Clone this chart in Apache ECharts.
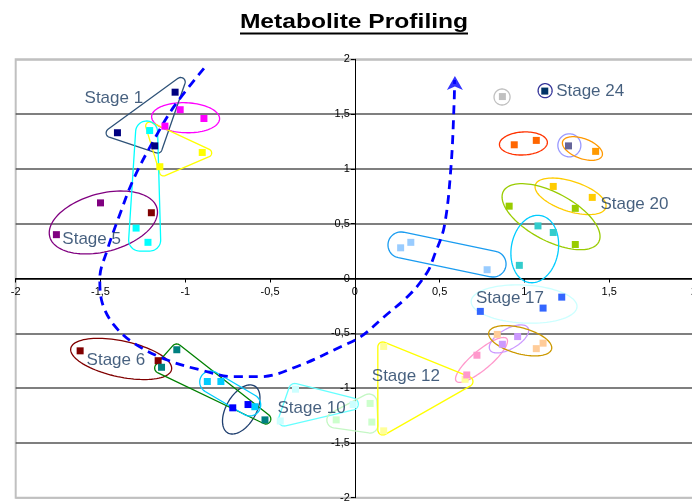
<!DOCTYPE html>
<html>
<head>
<meta charset="utf-8">
<script src="https://cdn.jsdelivr.net/npm/echarts@6/dist/echarts.min.js"></script>
<style>
  html, body { margin: 0; padding: 0; background: #fff; }
  #chart { width: 692px; height: 503px; }
</style>
</head>
<body>
<div id="chart"></div>
<script>
// ---- sample scores, one array per group: [component 1, component 2] ----
const navy        = [[-1.06, 1.70], [-1.40, 1.33], [-1.18, 1.21]];
const magenta     = [[-1.03, 1.54], [-0.89, 1.46], [-1.12, 1.39]];
const yellow      = [[-1.15, 1.02], [-0.90, 1.15]];
const cyan        = [[-1.21, 1.35], [-1.29, 0.46], [-1.22, 0.33]];
const purple      = [[-1.50, 0.69], [-1.76, 0.40]];
const maroon      = [[-1.20, 0.60], [-1.62, -0.66], [-1.16, -0.75]];
const teal        = [[-1.14, -0.81], [-1.05, -0.65], [-0.53, -1.29]];
const skyCyan     = [[-0.87, -0.94], [-0.79, -0.94], [-0.59, -1.17]];
const blue        = [[-0.72, -1.18], [-0.63, -1.15]];
const paleCyan    = [[-0.35, -1.01], [-0.44, -1.30], [-0.01, -1.15]];
const paleGreen   = [[-0.11, -1.29], [0.09, -1.14], [0.10, -1.31]];
const paleYellow  = [[0.17, -0.62], [0.17, -1.39], [0.65, -0.92]];
const pink        = [[0.66, -0.88], [0.72, -0.70]];
const lavender    = [[0.87, -0.60], [0.96, -0.53]];
const peach       = [[0.84, -0.51], [1.07, -0.64], [1.11, -0.59]];
const royalBlue   = [[0.74, -0.30], [1.11, -0.27], [1.22, -0.17]];
const lightBlue   = [[0.27, 0.28], [0.33, 0.33], [0.78, 0.08]];
const turquoise   = [[1.08, 0.48], [1.17, 0.42], [0.97, 0.12]];
const yellowGreen = [[0.91, 0.66], [1.30, 0.64], [1.30, 0.31]];
const gold        = [[1.17, 0.84], [1.40, 0.74]];
const orange      = [[1.42, 1.16]];
const orangeRed   = [[0.94, 1.22], [1.07, 1.26]];
const slate       = [[1.26, 1.21]];
const silver      = [[0.87, 1.66]];
const darkNavy    = [[1.12, 1.71]];

// ---- stage captions ----
const stageNames = ['Stage 1', 'Stage 5', 'Stage 6', 'Stage 10', 'Stage 12', 'Stage 17', 'Stage 20', 'Stage 24'];
const stageAnchors = [[-1.594, 1.647], [-1.725, 0.360], [-1.582, -0.744], [-0.456, -1.184],
                      [0.100, -0.896], [0.714, -0.178], [1.448, 0.677], [1.187, 1.704]];

// ---- developmental trajectory (dashed arrow) ----
const trajectory = [
  [-0.890, 1.918], [-1.067, 1.568], [-1.185, 1.264], [-1.303, 0.914], [-1.391, 0.564],
  [-1.460, 0.260], [-1.504, 0.002], [-1.489, -0.226], [-1.421, -0.424], [-1.303, -0.591],
  [-1.106, -0.744], [-0.909, -0.835], [-0.714, -0.896], [-0.555, -0.896], [-0.319, -0.789],
  [-0.083, -0.622], [0.035, -0.531], [0.173, -0.349], [0.331, -0.135], [0.429, 0.062],
  [0.466, 0.199], [0.527, 0.473], [0.567, 1.020], [0.586, 1.629], [0.588, 1.811]
];
const arrowTip = [[0.590, 1.848]];

// ---- x / y tick range ----
const axisMin = -2, axisMax = 2, axisStep = 0.5;

// ---- group outlines ----
// ellipses: centre in data units, semi-axes a/b in px, rotation in degrees
const ellipseRings = [
  { x: -0.998, y: 1.467, a: 34, b: 15, rot: 2, color: '#ff00ff' },
  { x: -1.483, y: 0.511, a: 55.5, b: 29, rot: -15, color: '#800080' },
  { x: 0.868, y: 1.656, a: 8, b: 8, rot: 0, color: '#c0c0c0' },
  { x: 1.122, y: 1.714, a: 7, b: 7, rot: 0, color: '#333399' },
  { x: 0.994, y: 1.232, a: 24, b: 11.5, rot: -3, color: '#ff3300' },
  { x: 1.265, y: 1.215, a: 11.5, b: 11.5, rot: 0, color: '#9999ff' },
  { x: 1.342, y: 1.186, a: 21, b: 10, rot: 20, color: '#ff9900' },
  { x: 1.272, y: 0.750, a: 37, b: 15, rot: 18, color: '#ffcc00' },
  { x: 1.157, y: 0.564, a: 54, b: 24, rot: 28, color: '#99cc00' },
  { x: 1.061, y: 0.269, a: 34, b: 23.5, rot: -80, color: '#00ccff' },
  { x: -1.378, y: -0.734, a: 51.5, b: 18, rot: 12, color: '#800000' },
  { x: -0.670, y: -1.195, a: 27, b: 15, rot: -60, color: '#1f3f6f' },
  { x: 0.747, y: -0.743, a: 33, b: 9.5, rot: -40, color: '#ff99cc' },
  { x: 0.909, y: -0.551, a: 22, b: 10, rot: -30, color: '#cc99ff' },
  { x: 0.975, y: -0.568, a: 32.5, b: 13, rot: 15, color: '#cc9900' },
  { x: 0.998, y: -0.233, a: 53, b: 19, rot: 3, color: '#ccffff' }
];
// rounded hulls: corner points in data units, corner radius in px
const hullRings = [
  { pts: [[-1.027, 1.793], [-1.440, 1.328], [-1.163, 1.186]], r: 4.5, color: '#2e5278' },
  { pts: [[-1.210, 1.391], [-0.868, 1.145], [-1.128, 0.972]], r: 4, color: '#ffff00' },
  { pts: [[-1.228, 1.337], [-1.269, 0.351], [-1.210, 0.351]], r: 11, color: '#00ffff' },
  { pts: [[0.272, 0.306], [0.815, 0.132]], r: 13, color: '#1a9cf0' },
  { pts: [[-1.051, -0.643], [-1.151, -0.817], [-0.525, -1.282]], r: 5, color: '#008000' },
  { pts: [[-0.850, -0.944], [-0.620, -1.154]], r: 11, color: '#00ccff' },
  { pts: [[-0.416, -1.291], [-0.354, -1.013], [-0.015, -1.145]], r: 6, color: '#66ffff' },
  { pts: [[-0.118, -1.291], [0.083, -1.127], [0.089, -1.337]], r: 8, color: '#c4f7c4' },
  { pts: [[0.165, -0.625], [0.667, -0.940], [0.165, -1.382]], r: 5, color: '#ffff00' }
];

const groups = [
  ['navy', navy, '#000080'], ['magenta', magenta, '#ff00ff'], ['yellow', yellow, '#ffff00'],
  ['cyan', cyan, '#00ffff'], ['purple', purple, '#800080'], ['maroon', maroon, '#800000'],
  ['teal', teal, '#008080'], ['skyCyan', skyCyan, '#00ccff'], ['blue', blue, '#0000ff'],
  ['paleCyan', paleCyan, '#ccffff'], ['paleGreen', paleGreen, '#ccffcc'],
  ['paleYellow', paleYellow, '#ffff99'], ['pink', pink, '#ff99cc'], ['lavender', lavender, '#cc99ff'],
  ['peach', peach, '#ffcc99'], ['royalBlue', royalBlue, '#3366ff'], ['lightBlue', lightBlue, '#99ccff'],
  ['turquoise', turquoise, '#33cccc'], ['yellowGreen', yellowGreen, '#99cc00'], ['gold', gold, '#ffcc00'],
  ['orange', orange, '#ff9900'], ['orangeRed', orangeRed, '#ff6600'], ['slate', slate, '#666699'],
  ['silver', silver, '#c0c0c0'], ['darkNavy', darkNavy, '#003366']
];

const FONT = '"Liberation Sans", Arial, Helvetica, sans-serif';
const LABEL_COLOR = '#17375e';
const comma = v => String(v).replace('.', ',');

// plot box
const GRID = { left: 15.7, top: 59.3, right: -2, bottom: 5.3 };
const CHART_W = 692, CHART_H = 503;
const plotW = CHART_W - GRID.left - GRID.right;
const plotH = CHART_H - GRID.top - GRID.bottom;
// both axes cross at the origin, which sits in the middle of the box
const xAxisShift = -plotH * (0 - axisMin) / (axisMax - axisMin);
const yAxisShift = -plotW * (0 - axisMin) / (axisMax - axisMin);

function ellipseItem(params, api) {
  const e = ellipseRings[params.dataIndex];
  const c = api.coord([e.x, e.y]);
  const th = e.rot * Math.PI / 180;
  const pts = [];
  for (let k = 0; k < 96; k++) {
    const t = k / 96 * 2 * Math.PI;
    const u = e.a * Math.cos(t), v = e.b * Math.sin(t);
    pts.push([c[0] + u * Math.cos(th) - v * Math.sin(th), c[1] + u * Math.sin(th) + v * Math.cos(th)]);
  }
  return { type: 'polygon', shape: { points: pts }, style: { fill: 'none', stroke: e.color, lineWidth: 1.3 } };
}

function cross(o, a, b) { return (a[0] - o[0]) * (b[1] - o[1]) - (a[1] - o[1]) * (b[0] - o[0]); }
function convexHull(points) {
  const p = points.slice().sort((a, b) => a[0] - b[0] || a[1] - b[1]);
  if (p.length < 3) return p;
  const lower = [], upper = [];
  for (const q of p) { while (lower.length >= 2 && cross(lower[lower.length - 2], lower[lower.length - 1], q) <= 0) lower.pop(); lower.push(q); }
  for (let i = p.length - 1; i >= 0; i--) { const q = p[i]; while (upper.length >= 2 && cross(upper[upper.length - 2], upper[upper.length - 1], q) <= 0) upper.pop(); upper.push(q); }
  upper.pop(); lower.pop();
  return lower.concat(upper);
}

function hullItem(params, api) {
  const h = hullRings[params.dataIndex];
  const p = convexHull(h.pts.map(q => api.coord(q)));
  const n = p.length, out = [];
  for (let i = 0; i < n; i++) {
    const prev = p[(i - 1 + n) % n], cur = p[i], next = p[(i + 1) % n];
    const a0 = Math.atan2(-(cur[0] - prev[0]), cur[1] - prev[1]);
    let a1 = Math.atan2(-(next[0] - cur[0]), next[1] - cur[1]);
    while (a1 < a0) a1 += 2 * Math.PI;
    const steps = Math.max(2, Math.ceil((a1 - a0) / (Math.PI / 24)));
    for (let s = 0; s <= steps; s++) {
      const a = a0 + (a1 - a0) * s / steps;
      out.push([cur[0] + h.r * Math.cos(a), cur[1] + h.r * Math.sin(a)]);
    }
  }
  return { type: 'polygon', shape: { points: out }, style: { fill: 'none', stroke: h.color, lineWidth: 1.3 } };
}

const chart = echarts.init(document.getElementById('chart'), null, { renderer: 'canvas' });

const series = [
  {
    type: 'custom', name: 'ellipses', renderItem: ellipseItem, silent: true, z: 2,
    data: ellipseRings.map(e => [e.x, e.y]), encode: { x: 0, y: 1 }
  },
  {
    type: 'custom', name: 'hulls', renderItem: hullItem, silent: true, z: 2,
    data: hullRings.map(h => h.pts[0]), encode: { x: 0, y: 1 }
  },
  {
    type: 'line', name: 'trajectory', data: trajectory, smooth: 0.35, symbol: 'none', silent: true, z: 3,
    lineStyle: { color: '#0000ff', width: 2.8, type: [9, 6] }
  },
  {
    type: 'scatter', name: 'arrow', data: arrowTip, symbol: 'arrow', symbolSize: [12, 14], silent: true, z: 3,
    itemStyle: { color: '#0000ff' }
  }
];

groups.forEach(([name, data, color]) => {
  series.push({
    type: 'scatter', name, data, symbol: 'rect', symbolSize: 7, z: 4, silent: true,
    itemStyle: { color, opacity: 1 }
  });
});

series.push({
  type: 'scatter', name: 'stages', symbolSize: 0, silent: true, z: 5,
  data: stageAnchors.map((p, i) => ({ value: p, name: stageNames[i] })),
  label: {
    show: true, position: 'right', distance: 0, formatter: '{b}',
    fontFamily: FONT, fontSize: 17, color: LABEL_COLOR
  }
});

chart.setOption({
  animation: false,
  backgroundColor: '#fff',
  grid: {
    left: GRID.left, top: GRID.top, right: GRID.right, bottom: GRID.bottom,
    containLabel: false, outerBoundsMode: 'none',
    show: true, borderColor: '#c0c0c0', borderWidth: 2
  },
  xAxis: {
    type: 'value', min: axisMin, max: axisMax, interval: axisStep,
    position: 'bottom', offset: xAxisShift,
    axisLine: { onZero: false, lineStyle: { color: '#000', width: 1 } },
    axisTick: { show: true, length: 4, lineStyle: { color: '#000' } },
    axisLabel: { formatter: comma, fontFamily: FONT, fontSize: 11, color: '#000', margin: 8 },
    splitLine: { show: false }
  },
  yAxis: {
    type: 'value', min: axisMin, max: axisMax, interval: axisStep,
    position: 'left', offset: yAxisShift,
    axisLine: { onZero: false, lineStyle: { color: '#000', width: 1 } },
    axisTick: { show: true, length: 4, lineStyle: { color: '#000' } },
    axisLabel: { formatter: comma, fontFamily: FONT, fontSize: 11, color: '#000', margin: 5, padding: [5, 0, 0, 0] },
    splitLine: {
      show: true,
      lineStyle: { color: ['#c0c0c0', '#555', '#555', '#555', '#000', '#555', '#555', '#555', '#c0c0c0'], width: 1.5 }
    }
  },
  graphic: [
    {
      type: 'text', x: 354, y: 22, scaleX: 1.23, scaleY: 1, z: 10,
      style: {
        text: 'Metabolite Profiling', font: 'bold 20px ' + FONT, fill: '#000',
        align: 'center', verticalAlign: 'middle', textAlign: 'center', textVerticalAlign: 'middle'
      }
    },
    {
      type: 'line', z: 10,
      shape: { x1: 240, y1: 33.5, x2: 468, y2: 33.5 },
      style: { stroke: '#000', lineWidth: 2.2 }
    }
  ],
  series
});
</script>
</body>
</html>
